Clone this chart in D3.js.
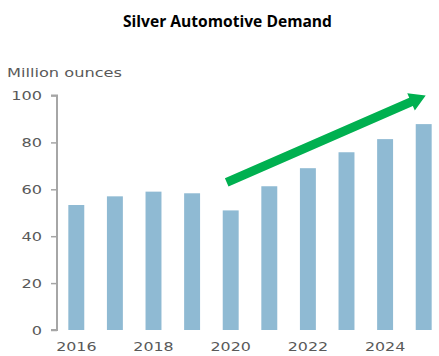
<!DOCTYPE html>
<html><head><meta charset="utf-8">
<script src="https://cdn.jsdelivr.net/npm/d3@7"></script>
<style>body{margin:0;background:#fff}svg{display:block}</style>
</head><body>
<script>
const years = [2016,2017,2018,2019,2020,2021,2022,2023,2024,2025];
const demand = [53.3,57.0,59.0,58.3,51.0,61.3,69.0,75.8,81.4,87.8];
const yTicks = [0,20,40,60,80,100];
const xTickLabels = [2016,2018,2020,2022,2024];
const title = "Silver Automotive Demand";
const unitLabel = "Million ounces";
// trend arrow annotation: from 2020 (value 63) to 2025 (value 100)
const arrowFrom = {year:2020, value:63};
const arrowTo = {year:2025, value:100};

const W=439,H=356;
const svg=d3.select("body").append("svg").attr("width",W).attr("height",H);
const x=d3.scaleBand().domain(years).range([57,443]).paddingInner(0.587).paddingOuter(0.2935);
const y=d3.scaleLinear().domain([0,100]).range([330,95.5]);

// widen text horizontally (reference text is stretched)
function stretch(sel, k){
  sel.each(function(){
    const len=this.getComputedTextLength();
    d3.select(this).attr("textLength",len*k).attr("lengthAdjust","spacingAndGlyphs");
  });
}

const t=svg.append("text").attr("x",227.5).attr("y",27).attr("text-anchor","middle")
  .attr("font-family","'Open Sans'").attr("font-weight","bold").attr("font-size",16.5).attr("fill","#000").text(title);
t.attr("textLength",209).attr("lengthAdjust","spacingAndGlyphs");

const ul=svg.append("text").attr("x",7).attr("y",77).attr("font-family","'DejaVu Sans'").attr("font-size",12.7).attr("fill","#595959").text(unitLabel);
ul.attr("textLength",115).attr("lengthAdjust","spacingAndGlyphs");

svg.selectAll("rect.bar").data(years).join("rect").attr("class","bar")
  .attr("x",d=>x(d)).attr("width",x.bandwidth())
  .attr("y",(d,i)=>y(demand[i])).attr("height",(d,i)=>y(0)-y(demand[i]))
  .attr("fill","#8FBAD3");

const yAxis=svg.append("g").attr("transform","translate(57,0)")
  .call(d3.axisLeft(y).tickValues(yTicks).tickSize(6).tickPadding(9));
yAxis.select(".domain").attr("stroke","#a6a6a6").attr("stroke-width",2).attr("d",`M-6,${y(100)}H0V${y(0)}H-6`);
yAxis.selectAll(".tick line").attr("stroke","#a6a6a6").attr("stroke-width",1.5);
yAxis.selectAll(".tick text").attr("font-family","'DejaVu Sans'").attr("font-size",13).attr("fill","#595959").call(stretch,1.24);

const xAxis=svg.append("g").attr("transform",`translate(0,${y(0)})`)
  .call(d3.axisBottom(x).tickValues(xTickLabels).tickSize(0).tickPadding(11.5));
xAxis.select(".domain").remove();
xAxis.selectAll(".tick text").attr("font-family","'DejaVu Sans'").attr("font-size",13).attr("fill","#595959").call(stretch,1.22);

// arrow
const x0=x(arrowFrom.year)+x.bandwidth()/2-4, y0=y(arrowFrom.value);
const x1=x(arrowTo.year)+x.bandwidth()/2+2, y1=y(arrowTo.value);
const ang=Math.atan2(y1-y0,x1-x0), L=Math.hypot(x1-x0,y1-y0);
const sw=4.5, hw=9.5, hl=16;
const g=svg.append("g").attr("transform",`translate(${x0},${y0}) rotate(${ang*180/Math.PI})`);
g.append("path").attr("fill","#00B050")
  .attr("d",`M0,${-sw}L${L-hl},${-sw}L${L-hl},${-hw}L${L},0L${L-hl},${hw}L${L-hl},${sw}L0,${sw}Z`);
</script>
</body></html>
